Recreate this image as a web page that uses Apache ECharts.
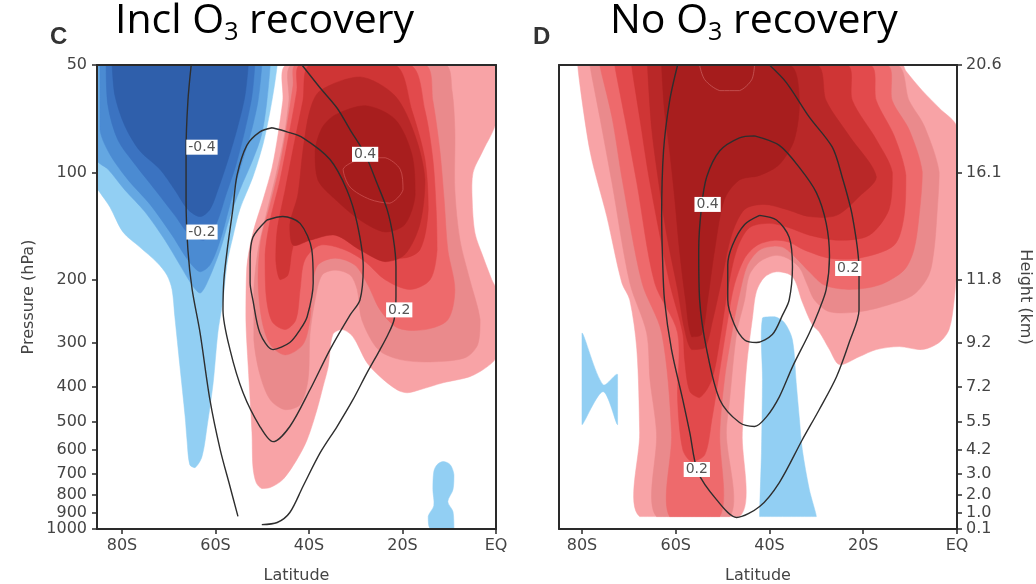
<!DOCTYPE html>
<html><head><meta charset="utf-8">
<script src="https://cdn.jsdelivr.net/npm/echarts@6/dist/echarts.min.js"></script>
<style>html,body{margin:0;padding:0;background:#fff}#c{width:1036px;height:584px}</style>
</head><body><div id="c"></div>
<script>
// ---------- axis ticks ----------
const pressureTicks = [50,100,200,300,400,500,600,700,800,900,1000];
const heightTickLabels = ['20.6','16.1','11.8','9.2','7.2','5.5','4.2','3.0','2.0','1.0','0.1'];
const latTicks = [-80,-60,-40,-20,0];
const latTickLabels = ['80S','60S','40S','20S','EQ'];

// ---------- Panel C (Incl O3 recovery): filled regions [lat, hPa] ----------
const cBlue1 = [[-85.4,50],[-46.8,50],[-47.3,56],[-48.3,67],[-49.8,83],[-52.0,103],[-54.8,127],[-56.3,152],[-57.5,179],[-58.4,228],[-59.5,282],[-60.5,389],[-61.8,516],[-62.9,627],[-64.4,673],[-65.5,660],[-66.1,562],[-66.5,484],[-67.6,351],[-68.7,254],[-69.3,213],[-70.4,194],[-72.5,179],[-76.2,162],[-79.8,147],[-82.6,125],[-84.7,114],[-85.4,110]];
const cBlue2 = [[-85.4,50],[-48.3,50],[-49.0,63],[-50.1,78],[-52.0,92],[-54.8,112],[-56.9,133],[-59.0,165],[-61.8,204],[-63.3,218],[-65.0,207],[-67.6,182],[-70.8,155],[-75.1,129],[-79.4,112],[-83.0,98],[-85.4,92]];
const cBlue3 = [[-84.7,50],[-50.1,50],[-50.9,63],[-52.6,79],[-54.8,98],[-56.9,123],[-59.0,155],[-61.2,182],[-63.3,190],[-65.9,176],[-69.3,150],[-74.0,123],[-78.7,105],[-82.6,89],[-84.7,76]];
const cBlue4 = [[-83.4,50],[-51.6,50],[-52.2,61],[-53.7,76],[-55.6,95],[-57.8,116],[-59.9,140],[-62.5,155],[-65.5,150],[-68.7,132],[-72.9,112],[-77.2,95],[-80.9,81],[-83.0,65]];
const cBlue5 = [[-82.1,50],[-53.0,50],[-53.7,61],[-55.2,74],[-57.3,92],[-59.5,112],[-61.2,127],[-63.3,133],[-65.9,127],[-68.7,112],[-71.9,98],[-76.2,87],[-79.4,74],[-81.5,61]];
const cBlueBlob = [[-11.3,647],[-9.8,660],[-9.0,704],[-9.2,775],[-10.3,838],[-9.2,894],[-9.0,995],[-14.1,995],[-14.5,922],[-13.3,860],[-13.5,775],[-13.3,690],[-12.6,660]];

const cRed1 = [[-44.7,50],[0,50],[0,72],[-2.8,87],[-4.9,100],[-5.1,119],[-4.5,148],[-2.8,172],[-0.9,200],[0,213],[0,329],[-1.9,351],[-5.6,374],[-11.3,389],[-16.3,407],[-19.0,415],[-21.2,407],[-24.8,374],[-27.6,342],[-30.6,289],[-32.9,276],[-34.9,285],[-35.9,351],[-37.0,399],[-38.3,463],[-40.4,562],[-42.6,639],[-45.6,727],[-48.3,765],[-50.1,770],[-51.3,741],[-52.0,668],[-52.2,537],[-53.0,351],[-53.5,259],[-53.3,184],[-52.0,148],[-49.8,119],[-47.9,97],[-46.6,78],[-45.6,63]];
const cRed2 = [[-43.6,50],[-10.9,50],[-9.4,59],[-8.8,76],[-8.8,112],[-7.7,155],[-5.6,200],[-3.4,259],[-3.9,304],[-6.6,331],[-14.1,340],[-20.5,335],[-25.2,314],[-28.7,259],[-29.7,213],[-31.2,194],[-34.4,188],[-37.2,194],[-38.7,228],[-39.8,285],[-40.2,381],[-41.9,448],[-45.1,463],[-48.3,434],[-50.5,369],[-51.8,295],[-51.8,213],[-50.9,165],[-49.2,132],[-47.1,102],[-45.3,79],[-44.3,63]];
const cRed3 = [[-42.8,50],[-15.2,50],[-13.5,63],[-12.0,87],[-11.1,119],[-10.3,165],[-8.8,213],[-10.3,259],[-15.2,276],[-21.0,273],[-24.8,243],[-27.4,207],[-30.2,182],[-34.4,174],[-38.1,182],[-39.4,213],[-39.8,259],[-41.3,304],[-45.1,325],[-48.3,304],[-50.1,259],[-50.9,200],[-50.3,155],[-48.3,123],[-46.2,95],[-44.5,71],[-43.4,57]];
const cRed4 = [[-41.9,50],[-18.4,50],[-15.2,67],[-13.5,92],[-12.8,127],[-12.6,165],[-14.1,200],[-18.4,213],[-23.7,200],[-28.0,178],[-32.3,165],[-37.6,160],[-40.9,176],[-41.9,213],[-42.8,259],[-45.1,276],[-47.9,262],[-49.2,220],[-49.4,170],[-48.3,136],[-46.2,105],[-44.1,76],[-42.6,59]];
const cRed5 = [[-39.8,50],[-21.6,50],[-18.0,67],[-15.2,92],[-14.5,127],[-16.3,165],[-20.5,174],[-25.9,160],[-31.2,145],[-36.6,138],[-41.9,145],[-43.6,165],[-44.5,194],[-46.2,200],[-47.1,176],[-46.8,145],[-45.1,112],[-43.0,81],[-41.3,63]];
const cRed6 = [[-37.6,59],[-29.1,54],[-21.6,61],[-17.3,79],[-15.2,105],[-16.3,140],[-19.5,170],[-23.7,178],[-29.1,165],[-34.4,150],[-39.8,155],[-43.4,160],[-44.1,140],[-42.4,116],[-41.3,87],[-39.8,67]];
const cRed7 = [[-34.4,69],[-28.0,65],[-21.6,71],[-18.0,89],[-17.3,116],[-19.5,140],[-23.7,147],[-29.1,136],[-34.4,119],[-38.1,105],[-38.7,87],[-37.2,75]];
const cRed8 = [[-32.7,98],[-29.1,92],[-23.7,91],[-20.5,98],[-19.9,112],[-22.7,122],[-27.0,119],[-31.2,110]];

// ---------- Panel C: contour lines [lat, hPa] ----------
const cLineNeg = [[-65.2,50],[-65.9,63],[-66.3,87],[-66.3,119],[-65.9,165],[-65.0,213],[-63.3,282],[-61.2,434],[-59.0,599],[-56.9,760],[-55.2,922]];
const cLineMid = [[-47.9,75],[-44.7,77],[-41.3,80],[-35.5,92],[-31.9,112],[-29.7,139],[-28.4,184],[-29.1,228],[-31.2,251],[-35.5,314],[-39.8,407],[-44.1,516],[-47.7,569],[-50.5,516],[-54.1,415],[-56.9,314],[-58.4,243],[-58.2,200],[-57.5,165],[-56.3,127],[-55.4,102],[-53.3,84],[-50.5,77],[-47.9,75]];
const cLineInner = [[-49.0,136],[-45.6,133],[-41.9,139],[-39.4,165],[-39.1,204],[-40.4,254],[-41.9,276],[-44.1,300],[-47.7,314],[-50.5,282],[-52.0,228],[-52.6,204],[-52.6,176],[-52.0,152],[-49.0,136]];
const cLineOuter = [[-41.5,50],[-37.6,58],[-34.0,66],[-31.2,76],[-28.0,89],[-25.5,107],[-23.3,127],[-22.0,152],[-21.4,184],[-21.4,223],[-21.8,259],[-23.1,285],[-24.8,314],[-27.6,365],[-30.6,434],[-34.0,516],[-37.6,611],[-41.3,760],[-44.1,899],[-46.8,959],[-50.1,972]];
const cLabelPos = [[-62.9,85],[-62.9,147],[-28.0,89],[-20.7,243]];
const cLabelText = ['-0.4','-0.2','0.4','0.2'];

// ---------- Panel D (No O3 recovery): filled regions ----------
const dRed1 = [[-80.9,50],[-11.7,50],[-10.9,52],[-7.4,59],[-3.8,66],[0,75],[0,176],[-0.6,228],[-1.7,276],[-3.8,300],[-7.4,314],[-12.3,308],[-17.2,314],[-20.9,329],[-25.1,346],[-27.2,314],[-29.4,280],[-30.9,267],[-33.0,231],[-35.1,196],[-38.5,190],[-41.1,197],[-42.8,216],[-43.6,254],[-44.9,351],[-45.8,537],[-46.4,923],[-67.7,923],[-67.7,537],[-68.3,314],[-69.8,228],[-71.5,204],[-74.7,133],[-78.3,87]];
const dRed2 = [[-78.3,50],[-13.0,50],[-10.2,63],[-7.0,74],[-3.8,100],[-4.3,133],[-4.9,165],[-6.0,194],[-9.2,220],[-14.5,235],[-20.9,246],[-27.2,246],[-30.4,228],[-31.9,207],[-33.6,185],[-36.2,174],[-38.9,171],[-42.1,178],[-44.3,194],[-45.3,228],[-47.0,282],[-48.5,434],[-49.2,537],[-48.5,923],[-64.1,923],[-64.1,537],[-65.5,381],[-66.2,282],[-69.8,204],[-73.6,107],[-76.2,70]];
const dRed3 = [[-76.2,50],[-15.1,50],[-13.8,63],[-10.2,76],[-7.4,100],[-8.1,133],[-9.2,165],[-11.3,188],[-16.6,207],[-23.0,213],[-28.3,207],[-31.5,190],[-34.3,174],[-36.8,163],[-38.9,161],[-42.1,165],[-44.7,182],[-46.4,220],[-47.9,276],[-49.6,381],[-50.6,537],[-50.6,923],[-61.3,923],[-60.9,537],[-63.0,282],[-67.2,204],[-71.3,107],[-73.6,70]];
const dRed4 = [[-73.0,50],[-18.7,50],[-17.2,63],[-13.4,79],[-10.9,102],[-11.3,133],[-13.4,160],[-20.9,174],[-27.2,174],[-32.6,165],[-35.8,157],[-38.9,155],[-42.6,160],[-45.3,174],[-47.5,207],[-48.9,259],[-50.6,358],[-52.3,494],[-53.8,619],[-56.6,647],[-58.5,599],[-59.6,434],[-59.6,282],[-64.5,204],[-68.3,107],[-70.9,70]];
const dRed5 = [[-69.4,50],[-23.6,50],[-22.3,63],[-17.2,81],[-13.8,100],[-14.5,127],[-18.7,150],[-25.1,155],[-31.5,150],[-35.8,143],[-40.0,139],[-44.3,143],[-47.0,165],[-48.9,213],[-50.6,295],[-52.3,381],[-54.9,428],[-57.0,411],[-58.1,335],[-58.5,282],[-61.3,204],[-65.5,107],[-67.7,70]];
const dRed6 = [[-66.0,50],[-30.0,50],[-27.9,63],[-23.0,79],[-17.2,103],[-20.9,117],[-25.7,132],[-31.5,133],[-36.4,127],[-41.1,123],[-45.3,127],[-48.1,150],[-50.2,200],[-52.1,259],[-53.8,310],[-56.6,314],[-58.1,276],[-59.6,213],[-61.7,155],[-63.4,112],[-65.1,76]];
const dRed7 = [[-63.0,50],[-35.8,50],[-33.6,63],[-34.7,81],[-37.9,95],[-42.1,102],[-46.4,105],[-49.6,119],[-51.7,165],[-53.2,228],[-54.5,285],[-56.6,289],[-57.9,228],[-59.2,165],[-60.2,119],[-61.3,87],[-62.4,67]];
const dRed8 = [[-54.9,50],[-53.8,55],[-50.6,59],[-46.4,59],[-43.8,55],[-43.2,50]];
const dBlueCol = [[-41.5,256],[-38.9,254],[-36.8,264],[-35.1,295],[-34.3,389],[-33.6,494],[-33.0,599],[-31.5,775],[-30.0,923],[-42.1,923],[-41.7,599],[-41.5,381]];
const dBlueBowtie = [[-80.0,282],[-75.5,394],[-72.4,369],[-72.4,510],[-75.5,412],[-80.0,510]];

// ---------- Panel D: contour lines ----------
const dLineOuter = [[-59.6,50],[-61.3,63],[-62.6,87],[-63.0,133],[-62.8,176],[-62.4,228],[-60.9,314],[-58.5,434],[-57.0,537],[-55.3,691],[-51.3,827],[-47.0,928],[-42.1,865],[-37.9,741],[-33.0,562],[-29.4,463],[-25.7,374],[-23.0,300],[-20.9,243],[-20.9,188],[-22.3,133],[-24.5,103],[-26.6,85],[-31.5,70],[-36.4,56],[-40.0,50]];
const dLineMid = [[-43.2,79],[-37.9,84],[-33.6,97],[-30.0,114],[-27.9,139],[-27.2,172],[-27.9,213],[-29.4,243],[-31.5,282],[-35.1,351],[-37.9,426],[-40.6,484],[-43.2,516],[-46.4,503],[-50.6,434],[-53.4,314],[-54.9,228],[-55.1,165],[-54.5,125],[-53.4,103],[-50.6,87],[-46.4,80],[-43.2,79]];
const dLineInner = [[-42.1,132],[-38.5,136],[-35.8,152],[-35.1,184],[-35.8,228],[-37.2,251],[-39.4,285],[-42.8,300],[-45.3,295],[-47.5,267],[-48.9,228],[-48.9,182],[-47.9,160],[-45.3,140],[-42.1,132]];
const dLabelPos = [[-53.2,123],[-23.2,186],[-55.5,681]];
const dLabelText = ['0.4','0.2','0.2'];

// ---------- styling ----------
const BLUE = ['#92cff3','#64a7e2','#4b8bd2','#3b73c1','#2f5fab'];
const RED = ['#f8a3a6','#ea8a8c','#ee6a6c','#e24a4c','#cf3535','#b92828','#a81e1e','#a51c1c'];
const FONT = 'DejaVu Sans';
const AX = '#2a2a2a';

function fill(points, color, xi, yi, stroke) {
  return {
    type: 'custom', xAxisIndex: xi, yAxisIndex: yi, clip: true, silent: true, z: 2,
    data: points,
    renderItem: function (params, api) {
      if (params.dataIndex !== 0) return null;
      const pts = points.map(function (d) { return api.coord(d); });
      let x0 = Infinity, y0 = Infinity, x1 = -Infinity, y1 = -Infinity;
      pts.forEach(function (q) { x0 = Math.min(x0, q[0]); y0 = Math.min(y0, q[1]); x1 = Math.max(x1, q[0]); y1 = Math.max(y1, q[1]); });
      return { type: 'polygon', shape: { points: pts, smooth: 0.3, smoothConstraint: [[x0, y0], [x1, y1]] },
               style: { fill: color, stroke: stroke || color, lineWidth: stroke ? 0.8 : 0.5 } };
    }
  };
}
function cline(points, xi, yi) {
  return { type: 'line', xAxisIndex: xi, yAxisIndex: yi, data: points, showSymbol: false, symbol: 'none',
           smooth: 0.3, clip: true, silent: true, z: 4,
           lineStyle: { color: '#2e2e2e', width: 1.4 } };
}
function labels(pos, texts, xi, yi) {
  return { type: 'custom', xAxisIndex: xi, yAxisIndex: yi, data: pos, silent: true, z: 8, clip: false,
    renderItem: function (params, api) {
      const c = api.coord([api.value(0), api.value(1)]);
      return { type: 'text', x: c[0], y: c[1], z2: 10,
               style: { text: texts[params.dataIndex], align: 'center', verticalAlign: 'middle',
                        fontFamily: FONT, fontSize: 14, fill: '#555', backgroundColor: '#fff', padding: [1, 2, 0, 2] } };
    }
  };
}

const latLabelMap = {}; latTicks.forEach(function (v, i) { latLabelMap[v] = latTickLabels[i]; });
const hMap = {}; pressureTicks.forEach(function (v, i) { hMap[v] = heightTickLabels[i]; });

function xBottom(gi, min) {
  return { gridIndex: gi, type: 'value', min: min, max: 0, position: 'bottom', z: 6,
    name: 'Latitude', nameLocation: 'middle', nameGap: 39,
    nameTextStyle: { fontFamily: FONT, fontSize: 16, color: '#444' },
    axisLine: { show: true, onZero: false, lineStyle: { color: AX, width: 2 } },
    axisTick: { show: true, length: 5, customValues: latTicks, lineStyle: { color: AX, width: 1.5 } },
    axisLabel: { show: true, customValues: latTicks, margin: 9, fontFamily: FONT, fontSize: 16, color: '#444',
                 formatter: function (v) { return latLabelMap[Math.round(v)] || ''; } },
    splitLine: { show: false } };
}
function xTop(gi, min) {
  return { gridIndex: gi, type: 'value', min: min, max: 0, position: 'top', z: 6,
    axisLine: { show: true, onZero: false, lineStyle: { color: AX, width: 2 } },
    axisTick: { show: false }, axisLabel: { show: false }, splitLine: { show: false } };
}
function yLine(gi, pos) {
  return { gridIndex: gi, type: 'log', logBase: 10, min: 50, max: 1000, inverse: true, position: pos, z: 6,
    axisLine: { show: true, onZero: false, lineStyle: { color: AX, width: 2 } },
    axisTick: { show: false }, axisLabel: { show: false }, splitLine: { show: false } };
}

const titleRich = { n: { fontSize: 41, fontFamily: 'Open Sans', lineHeight: 48, fill: '#000' },
                    s: { fontSize: 25, fontFamily: 'Open Sans', lineHeight: 25, verticalAlign: 'bottom', fill: '#000' } };

const option = {
  animation: false,
  backgroundColor: '#fff',
  grid: [
    { left: 97, top: 65, width: 399, height: 464, outerBoundsMode: 'none', containLabel: false },
    { left: 559, top: 65, width: 398, height: 464, outerBoundsMode: 'none', containLabel: false }
  ],
  xAxis: [ xBottom(0, -85.35), xTop(0, -85.35), xBottom(1, -84.9), xTop(1, -84.9) ],
  yAxis: [
    { gridIndex: 0, type: 'log', logBase: 10, min: 50, max: 1000, inverse: true, position: 'left', z: 6,
      name: 'Pressure (hPa)', nameLocation: 'middle', nameGap: 60, nameRotate: 90,
      nameTextStyle: { fontFamily: FONT, fontSize: 16, color: '#444' },
      axisLine: { show: true, onZero: false, lineStyle: { color: AX, width: 2 } },
      axisTick: { show: true, length: 5, customValues: pressureTicks, lineStyle: { color: AX, width: 1.5 } },
      axisLabel: { show: true, customValues: pressureTicks, margin: 10, fontFamily: FONT, fontSize: 16, color: '#444',
                   formatter: function (v) { return String(Math.round(v)); } },
      splitLine: { show: false } },
    yLine(0, 'right'),
    yLine(1, 'left'),
    { gridIndex: 1, type: 'log', logBase: 10, min: 50, max: 1000, inverse: true, position: 'right', z: 6,
      name: 'Height (km)', nameLocation: 'middle', nameGap: 60, nameRotate: -90,
      nameTextStyle: { fontFamily: FONT, fontSize: 16, color: '#444' },
      axisLine: { show: true, onZero: false, lineStyle: { color: AX, width: 2 } },
      axisTick: { show: true, length: 5, customValues: pressureTicks, lineStyle: { color: AX, width: 1.5 } },
      axisLabel: { show: true, customValues: pressureTicks, margin: 9, fontFamily: FONT, fontSize: 16, color: '#444',
                   formatter: function (v) { return hMap[Math.round(v)] || ''; } },
      splitLine: { show: false } }
  ],
  graphic: [
    { type: 'text', left: 50, top: 25, style: { text: 'C', font: 'bold 24px "Liberation Sans"', fill: '#333' } },
    { type: 'text', left: 533, top: 25, style: { text: 'D', font: 'bold 24px "Liberation Sans"', fill: '#333' } },
    { type: 'text', left: 115, top: 1, style: { text: '{n|Incl O}{s|3}{n| recovery}', rich: titleRich } },
    { type: 'text', left: 610, top: 1, style: { text: '{n|No O}{s|3}{n| recovery}', rich: titleRich } }
  ],
  series: [
    fill(cBlue1, BLUE[0], 0, 0), fill(cBlue2, BLUE[1], 0, 0), fill(cBlue3, BLUE[2], 0, 0),
    fill(cBlue4, BLUE[3], 0, 0), fill(cBlue5, BLUE[4], 0, 0), fill(cBlueBlob, BLUE[0], 0, 0),
    fill(cRed1, RED[0], 0, 0), fill(cRed2, RED[1], 0, 0), fill(cRed3, RED[2], 0, 0), fill(cRed4, RED[3], 0, 0),
    fill(cRed5, RED[4], 0, 0), fill(cRed6, RED[5], 0, 0), fill(cRed7, RED[6], 0, 0), fill(cRed8, RED[7], 0, 0, '#cc5050'),
    cline(cLineNeg, 0, 0), cline(cLineMid, 0, 0), cline(cLineInner, 0, 0), cline(cLineOuter, 0, 0),
    labels(cLabelPos, cLabelText, 0, 0),

    fill(dBlueCol, BLUE[0], 2, 2), fill(dBlueBowtie, BLUE[0], 2, 2),
    fill(dRed1, RED[0], 2, 2), fill(dRed2, RED[1], 2, 2), fill(dRed3, RED[2], 2, 2), fill(dRed4, RED[3], 2, 2),
    fill(dRed5, RED[4], 2, 2), fill(dRed6, RED[5], 2, 2), fill(dRed7, RED[6], 2, 2), fill(dRed8, RED[7], 2, 2, '#c85a5a'),
    cline(dLineOuter, 2, 2), cline(dLineMid, 2, 2), cline(dLineInner, 2, 2),
    labels(dLabelPos, dLabelText, 2, 2)
  ]
};
const chart = echarts.init(document.getElementById('c'));
chart.setOption(option);
</script>
</body></html>
